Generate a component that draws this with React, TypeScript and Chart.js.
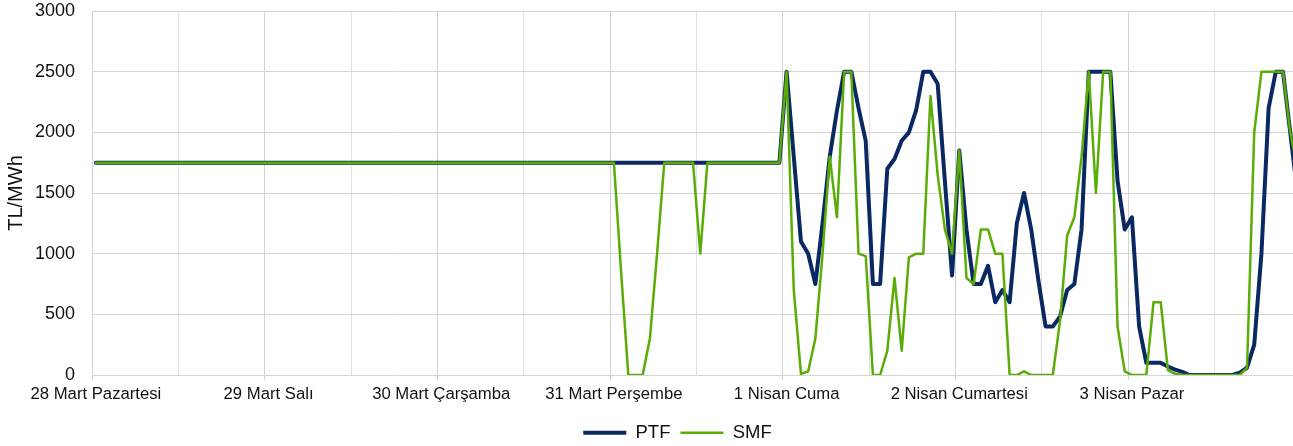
import React, { useEffect, useRef } from 'react';
import { Chart, registerables } from 'chart.js';

Chart.register(...registerables);

// Day labels (x-axis tick labels, one per 24 hourly categories)
const dayLabels = [
  '28 Mart Pazartesi',
  '29 Mart Salı',
  '30 Mart Çarşamba',
  '31 Mart Perşembe',
  '1 Nisan Cuma',
  '2 Nisan Cumartesi',
  '3 Nisan Pazar',
];

const hours = [
  '00', '01', '02', '03', '04', '05', '06', '07', '08', '09', '10', '11',
  '12', '13', '14', '15', '16', '17', '18', '19', '20', '21', '22', '23',
];

// PTF (TL/MWh), hourly
const ptf = [
  1750, 1750, 1750, 1750, 1750, 1750, 1750, 1750, 1750, 1750, 1750, 1750, 1750, 1750, 1750, 1750, 1750, 1750, 1750, 1750, 1750, 1750, 1750, 1750,
  1750, 1750, 1750, 1750, 1750, 1750, 1750, 1750, 1750, 1750, 1750, 1750, 1750, 1750, 1750, 1750, 1750, 1750, 1750, 1750, 1750, 1750, 1750, 1750,
  1750, 1750, 1750, 1750, 1750, 1750, 1750, 1750, 1750, 1750, 1750, 1750, 1750, 1750, 1750, 1750, 1750, 1750, 1750, 1750, 1750, 1750, 1750, 1750,
  1750, 1750, 1750, 1750, 1750, 1750, 1750, 1750, 1750, 1750, 1750, 1750, 1750, 1750, 1750, 1750, 1750, 1750, 1750, 1750, 1750, 1750, 1750, 1750,
  2500, 1800, 1100, 1000, 750, 1250, 1800, 2180, 2500, 2500, 2200, 1930, 750, 750, 1700, 1780, 1930, 2000, 2180, 2500, 2500, 2400, 1600, 820,
  1850, 1200, 750, 750, 900, 600, 700, 600, 1250, 1500, 1200, 780, 400, 400, 480, 700, 750, 1200, 2500, 2500, 2500, 2500, 1600, 1200,
  1300, 400, 100, 100, 100, 70, 45, 25, 0, 0, 0, 0, 0, 0, 0, 20, 60, 250, 1000, 2200, 2500, 2500, 2000, 1500,
];

// SMF (TL/MWh), hourly
const smf = [
  1750, 1750, 1750, 1750, 1750, 1750, 1750, 1750, 1750, 1750, 1750, 1750, 1750, 1750, 1750, 1750, 1750, 1750, 1750, 1750, 1750, 1750, 1750, 1750,
  1750, 1750, 1750, 1750, 1750, 1750, 1750, 1750, 1750, 1750, 1750, 1750, 1750, 1750, 1750, 1750, 1750, 1750, 1750, 1750, 1750, 1750, 1750, 1750,
  1750, 1750, 1750, 1750, 1750, 1750, 1750, 1750, 1750, 1750, 1750, 1750, 1750, 1750, 1750, 1750, 1750, 1750, 1750, 1750, 1750, 1750, 1750, 1750,
  1750, 850, 0, 0, 0, 300, 1000, 1750, 1750, 1750, 1750, 1750, 1000, 1750, 1750, 1750, 1750, 1750, 1750, 1750, 1750, 1750, 1750, 1750,
  2500, 700, 10, 30, 300, 1000, 1800, 1300, 2500, 2500, 1000, 980, 0, 0, 200, 800, 200, 970, 1000, 1000, 2300, 1650, 1200, 1000,
  1850, 800, 750, 1200, 1200, 1000, 1000, 0, 0, 30, 0, 0, 0, 0, 440, 1150, 1300, 1800, 2500, 1500, 2500, 2500, 400, 30,
  0, 0, 0, 600, 600, 40, 10, 0, 0, 0, 0, 0, 0, 0, 0, 0, 60, 2000, 2500, 2500, 2500, 2500, 2000, 1700,
];

const yTicks = [0, 500, 1000, 1500, 2000, 2500, 3000];

const categories = dayLabels.flatMap((d) => hours.map((h) => `${d} ${h}:00`));

const FONT = '"Liberation Sans", Arial, Helvetica, sans-serif';
const TEXT = '#111111';
const GRID_MAJOR = '#D2D2D2';
const GRID_MINOR = '#E1E1E1';
const GRID_Y = '#D5D5D5';

export default function App() {
  const ref = useRef<HTMLCanvasElement | null>(null);

  useEffect(() => {
    if (!ref.current) return;
    const chart = new Chart(ref.current, {
      type: 'line',
      data: {
        labels: categories,
        datasets: [
          {
            label: 'PTF',
            data: ptf,
            borderColor: '#0A2862',
            backgroundColor: '#0A2862',
            borderWidth: 4,
            order: 2,
          },
          {
            label: 'SMF',
            data: smf,
            borderColor: '#5AAC06',
            backgroundColor: '#5AAC06',
            borderWidth: 2.5,
            order: 1,
          },
        ],
      },
      options: {
        responsive: false,
        animation: false,
        devicePixelRatio: 1,
        layout: { padding: { left: 0, top: 11, right: 0, bottom: 0 } },
        elements: {
          point: { radius: 0, hoverRadius: 0 },
          line: { tension: 0, borderJoinStyle: 'round', borderCapStyle: 'round', fill: false },
        },
        plugins: {
          legend: {
            position: 'bottom',
            labels: {
              usePointStyle: true,
              pointStyle: 'line',
              pointStyleWidth: 43,
              padding: 10,
              color: TEXT,
              font: { family: FONT, size: 18.5 },
              sort: (a: any, b: any) => a.datasetIndex - b.datasetIndex,
            },
          },
          tooltip: { enabled: false },
        },
        scales: {
          x: {
            type: 'category',
            offset: true,
            grid: {
              offset: true,
              lineWidth: 1,
              color: (ctx: any) =>
                ctx.index % 24 === 0 ? GRID_MAJOR : ctx.index % 12 === 0 ? GRID_MINOR : 'rgba(0,0,0,0)',
              tickColor: (ctx: any) => (ctx.index % 24 === 0 ? GRID_MAJOR : 'rgba(0,0,0,0)'),
              tickLength: 5,
            },
            border: { display: false },
            ticks: {
              autoSkip: false,
              maxRotation: 0,
              minRotation: 0,
              padding: 4,
              color: TEXT,
              font: { family: FONT, size: 16.7 },
              callback: (_v: any, index: number) => (index % 24 === 0 ? dayLabels[index / 24] : ''),
            },
            afterFit: (s: any) => {
              s.height = 38.5;
            },
          },
          y: {
            position: 'left',
            min: yTicks[0],
            max: yTicks[yTicks.length - 1],
            afterBuildTicks: (s: any) => {
              s.ticks = yTicks.map((v) => ({ value: v }));
            },
            ticks: {
              padding: 0,
              color: TEXT,
              font: { family: FONT, size: 18 },
              callback: (v: any) => String(v),
            },
            grid: {
              color: GRID_Y,
              lineWidth: 1,
              drawTicks: true,
              tickLength: 17.3,
              tickColor: 'rgba(0,0,0,0)',
            },
            border: { display: false },
            title: {
              display: true,
              text: 'TL/MWh',
              color: TEXT,
              font: { family: FONT, size: 20 },
              padding: { top: 4, bottom: 0 },
            },
            afterFit: (s: any) => {
              s.width = 92.3;
            },
          },
          y2: {
            position: 'right',
            display: true,
            ticks: { display: false },
            grid: { display: false },
            border: { display: false },
            afterFit: (s: any) => {
              s.width = 54;
            },
          },
        },
      },
    } as any);
    return () => chart.destroy();
  }, []);

  return (
    <div
      style={{
        position: 'absolute',
        left: 0,
        top: 0,
        width: 1293,
        height: 446,
        overflow: 'hidden',
        background: '#ffffff',
      }}
    >
      <canvas ref={ref} width={1355} height={452} style={{ display: 'block' }} />
    </div>
  );
}
